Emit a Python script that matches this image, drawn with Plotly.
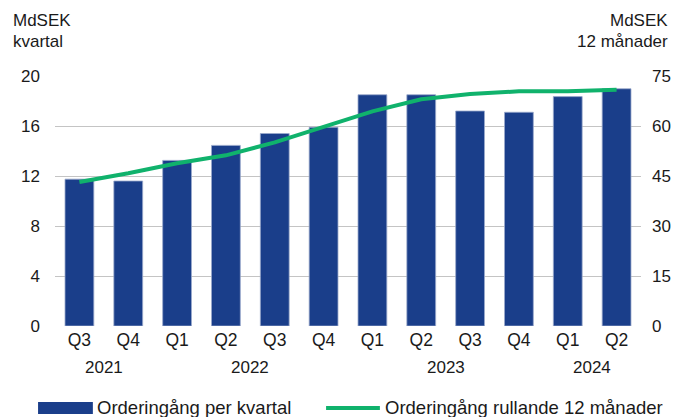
"""Orderingång: kvartal (staplar) och rullande 12 månader (linje)."""

import plotly.graph_objects as go

quarters = ["Q3", "Q4", "Q1", "Q2", "Q3", "Q4", "Q1", "Q2", "Q3", "Q4", "Q1", "Q2"]
years = ["2021", "2022", "2023", "2024"]
year_centers = [0.5, 3.5, 7.5, 10.5]  # category index where each year label sits
per_quarter = [11.75, 11.6, 13.25, 14.45, 15.4, 15.9, 18.5, 18.5, 17.2, 17.1, 18.35, 18.98]
rolling_12m = [43.2, 45.8, 48.8, 51.2, 55.1, 59.6, 64.4, 68.0, 69.6, 70.4, 70.4, 70.9]

BAR = "#1a3e8a"
LINE = "#10b26c"
GRID = "#c4c4c4"
FONT = "Liberation Sans, Arial, sans-serif"

# the page body has an 8px margin: draw the figure 8px smaller and
# shift every reference pixel position by OFF
OFF = 8
W, H = 683 - OFF, 417 - OFF
L, T = 55 - OFF, 76 - OFF
R, B = 40, 91
PW, PH = W - L - R, H - T - B


def px(x):
    return (x - OFF - L) / PW


def py(y):
    return (H - B - (y - OFF)) / PH


x = list(range(len(quarters)))

fig = go.Figure()
fig.add_trace(
    go.Bar(
        x=x,
        y=per_quarter,
        name="Orderingång per kvartal",
        marker=dict(color=BAR, line=dict(color="#9aa9cc", width=0.8)),
        width=0.59,
        yaxis="y",
    )
)
fig.add_trace(
    go.Scatter(
        x=x,
        y=rolling_12m,
        name="Orderingång rullande 12 månader",
        mode="lines",
        line=dict(color=LINE, width=4),
        yaxis="y2",
    )
)

annotations = [
    dict(x=px(11), y=py(20), text="MdSEK", xanchor="left"),
    dict(x=px(11), y=py(41), text="kvartal", xanchor="left"),
    dict(x=px(672), y=py(20), text="MdSEK", xanchor="right"),
    dict(x=px(672), y=py(41), text="12 månader", xanchor="right"),
    dict(x=px(95), y=py(407), text="Orderingång per kvartal", xanchor="left",
         font=dict(size=18.5)),
    dict(x=px(384), y=py(407), text="Orderingång rullande 12 månader", xanchor="left",
         font=dict(size=18.5)),
]
for a in annotations:
    a.update(xref="paper", yref="paper", yanchor="middle", showarrow=False)

for yr, c in zip(years, year_centers):
    annotations.append(
        dict(x=c, y=py(367), xref="x", yref="paper", text=yr,
             showarrow=False, xanchor="center", yanchor="middle")
    )

shapes = [
    dict(type="rect", xref="paper", yref="paper",
         x0=px(38), x1=px(93), y0=py(414), y1=py(402),
         fillcolor=BAR, line=dict(width=0)),
    dict(type="line", xref="paper", yref="paper",
         x0=px(327), x1=px(381), y0=py(408), y1=py(408),
         line=dict(color=LINE, width=4)),
]

fig.update_layout(
    width=W,
    height=H,
    margin=dict(l=L, r=R, t=T, b=B),
    paper_bgcolor="white",
    plot_bgcolor="white",
    font=dict(family=FONT, size=17, color="#1a1a1a"),
    showlegend=False,
    xaxis=dict(
        tickmode="array",
        tickvals=x,
        ticktext=quarters,
        range=[-0.5, len(quarters) - 0.5],
        showgrid=False,
        showline=False,
        zeroline=False,
        ticks="",
        ticklabelstandoff=1,
        tickfont=dict(size=17.5),
    ),
    yaxis=dict(
        range=[0, 20],
        dtick=4,
        showgrid=True,
        gridcolor=GRID,
        gridwidth=1,
        zeroline=False,
        showline=False,
        ticks="",
        ticklabelstandoff=14,
    ),
    yaxis2=dict(
        range=[0, 75],
        dtick=15,
        overlaying="y",
        side="right",
        showgrid=False,
        zeroline=False,
        showline=False,
        ticks="",
        ticklabelstandoff=10,
    ),
    annotations=annotations,
    shapes=shapes,
)

fig.write_html("out.html")
